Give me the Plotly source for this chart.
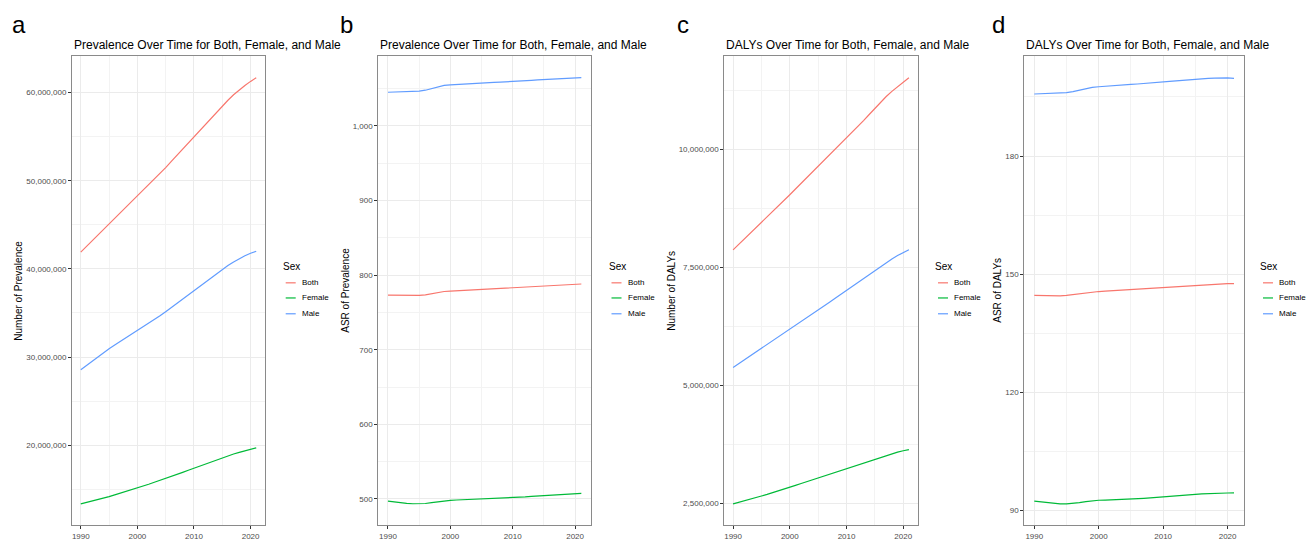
import numpy as np
import plotly.graph_objects as go

W, H = 1306, 541

years = list(range(1990, 2022))
sexes = ["Both", "Female", "Male"]
colors = {"Both": "#F8766D", "Female": "#00BA38", "Male": "#619CFF"}

# Panel a: Number of prevalence (millions)
prev_num_both = [41.9, 42.54, 43.18, 43.82, 44.46, 45.1, 45.72, 46.34, 46.96, 47.58, 48.2, 48.84, 49.48, 50.14,
                 50.82, 51.5, 52.2, 52.9, 53.6, 54.3, 55.0, 55.7, 56.4, 57.1, 57.8, 58.48, 59.14, 59.76, 60.32,
                 60.82, 61.28, 61.7]
prev_num_female = [13.35, 13.5, 13.66, 13.82, 13.99, 14.17, 14.36, 14.55, 14.75, 14.95, 15.15, 15.36, 15.57,
                   15.79, 16.0, 16.22, 16.45, 16.68, 16.92, 17.16, 17.4, 17.64, 17.88, 18.12, 18.36, 18.58, 18.8,
                   19.0, 19.19, 19.37, 19.54, 19.7]
prev_num_male = [28.55, 29.05, 29.55, 30.05, 30.5, 30.95, 31.37, 31.78, 32.18, 32.57, 32.96, 33.36, 33.78, 34.22,
                 34.68, 35.15, 35.63, 36.12, 36.61, 37.1, 37.59, 38.08, 38.56, 39.04, 39.5, 39.95, 40.38, 40.79,
                 41.16, 41.5, 41.78, 42.0]

# Panel b: ASR of prevalence
prev_asr_both = [773.1, 772.9, 772.7, 772.6, 772.6, 772.8, 773.6, 775.2, 776.9, 778.0, 778.5, 779.0, 779.4, 779.8,
                 780.2, 780.6, 781.0, 781.4, 781.8, 782.3, 782.8, 783.3, 783.9, 784.5, 785.0, 785.5, 786.0, 786.5,
                 787.0, 787.4, 787.8, 788.1]
prev_asr_female = [497.0, 495.8, 494.8, 494.0, 493.6, 493.5, 493.9, 495.0, 496.4, 497.5, 498.2, 498.6, 498.9, 499.2,
                   499.5, 499.8, 500.1, 500.5, 500.9, 501.3, 501.7, 502.2, 502.8, 503.4, 504.0, 504.5, 505.0, 505.5,
                   506.0, 506.5, 507.0, 507.5]
prev_asr_male = [1045.1, 1045.2, 1045.4, 1045.7, 1046.0, 1046.5, 1047.8, 1050.0, 1052.5, 1054.2, 1055.0, 1055.6,
                 1056.2, 1056.7, 1057.1, 1057.5, 1057.9, 1058.3, 1058.6, 1058.9, 1059.3, 1059.8, 1060.4, 1061.0,
                 1061.6, 1062.1, 1062.6, 1063.1, 1063.6, 1064.0, 1064.3, 1064.6]

# Panel c: Number of DALYs (millions)
daly_num_both = [7.87, 7.985, 8.1, 8.215, 8.33, 8.45, 8.57, 8.69, 8.81, 8.925, 9.04, 9.16, 9.28, 9.4, 9.515, 9.635,
                 9.755, 9.875, 9.995, 10.11, 10.23, 10.355, 10.48, 10.61, 10.74, 10.87, 11.0, 11.12, 11.23, 11.33,
                 11.43, 11.52]
daly_num_female = [2.49, 2.52, 2.55, 2.585, 2.62, 2.655, 2.69, 2.725, 2.76, 2.8, 2.84, 2.88, 2.92, 2.96, 3.0, 3.04,
                   3.08, 3.12, 3.16, 3.2, 3.24, 3.28, 3.32, 3.36, 3.4, 3.44, 3.48, 3.52, 3.555, 3.585, 3.615, 3.64]
daly_num_male = [5.38, 5.46, 5.545, 5.63, 5.71, 5.79, 5.87, 5.95, 6.03, 6.11, 6.19, 6.27, 6.35, 6.43, 6.51, 6.59,
                 6.675, 6.76, 6.845, 6.93, 7.015, 7.1, 7.185, 7.27, 7.355, 7.44, 7.525, 7.605, 7.68, 7.75, 7.815,
                 7.875]

# Panel d: ASR of DALYs
daly_asr_both = [144.6, 144.55, 144.5, 144.48, 144.5, 144.6, 144.8, 145.1, 145.35, 145.5, 145.6, 145.7, 145.8,
                 145.9, 146.0, 146.1, 146.2, 146.3, 146.45, 146.6, 146.7, 146.8, 146.9, 147.0, 147.1, 147.2, 147.3,
                 147.4, 147.5, 147.55, 147.6, 147.6]
daly_asr_female = [92.4, 92.2, 92.0, 91.8, 91.7, 91.7, 91.8, 92.0, 92.25, 92.45, 92.6, 92.65, 92.7, 92.8, 92.85,
                   92.9, 93.0, 93.1, 93.2, 93.35, 93.5, 93.6, 93.75, 93.85, 94.0, 94.1, 94.2, 94.3, 94.35, 94.4,
                   94.45, 94.5]
daly_asr_male = [195.75, 195.8, 195.85, 195.9, 196.0, 196.1, 196.35, 196.75, 197.15, 197.45, 197.6, 197.75, 197.85,
                 197.95, 198.1, 198.2, 198.3, 198.4, 198.5, 198.65, 198.8, 198.95, 199.1, 199.25, 199.4, 199.5,
                 199.6, 199.7, 199.8, 199.9, 199.85, 199.7]

panel_labels = ["a", "b", "c", "d"]
panel_titles = ["Prevalence Over Time for Both, Female, and Male",
                "Prevalence Over Time for Both, Female, and Male",
                "DALYs Over Time for Both, Female, and Male",
                "DALYs Over Time for Both, Female, and Male"]
y_titles = ["Number of Prevalence", "ASR of Prevalence", "Number of DALYs", "ASR of DALYs"]
x_ticks = [1990, 2000, 2010, 2020]
x_minor = [1995, 2005, 2015]

panels = [
    dict(data={"Both": np.array(prev_num_both) * 1e6, "Female": np.array(prev_num_female) * 1e6,
               "Male": np.array(prev_num_male) * 1e6}, dtick=10e6, minor=5e6),
    dict(data={"Both": np.array(prev_asr_both), "Female": np.array(prev_asr_female),
               "Male": np.array(prev_asr_male)}, dtick=100, minor=50),
    dict(data={"Both": np.array(daly_num_both) * 1e6, "Female": np.array(daly_num_female) * 1e6,
               "Male": np.array(daly_num_male) * 1e6}, dtick=2.5e6, minor=1.25e6),
    dict(data={"Both": np.array(daly_asr_both), "Female": np.array(daly_asr_female),
               "Male": np.array(daly_asr_male)}, dtick=30, minor=15),
]

# pixel layout of each panel: (left, right), top, bottom
px_x = [(72, 265), (378.3, 591), (724.3, 917.7), (1024.3, 1244)]
px_top, px_bot = 57, 531
ytitle_x = [19, 346, 672, 998]
label_x = [10, 338, 675, 990]
legend_x = [280.7, 606.5, 933, 1258]

FONT = "Liberation Sans, Arial"

def fx(p):
    return p / W

def fy(p):
    return 1 - p / H

fig = go.Figure()
annotations = []
shapes = []

xr = [1990 - 0.05 * 31, 2021 + 0.05 * 31]

for i, pnl in enumerate(panels):
    n = "" if i == 0 else str(i + 1)
    xa, ya = "x" + n, "y" + n
    allv = np.concatenate(list(pnl["data"].values()))
    lo, hi = allv.min(), allv.max()
    pad = 0.05 * (hi - lo)
    for s in sexes:
        fig.add_trace(go.Scatter(x=years, y=pnl["data"][s], mode="lines", name=s,
                                 line=dict(color=colors[s], width=1.2),
                                 xaxis=xa, yaxis=ya, showlegend=False))
    axcommon = dict(showline=True, mirror=True, linecolor="#8a8a8a", linewidth=1,
                    ticks="outside", ticklen=3, tickcolor="#333333", tickwidth=1,
                    tickfont=dict(size=8, color="#4d4d4d", family=FONT),
                    gridcolor="#ebebeb", gridwidth=1, zeroline=False)
    fig.update_layout(**{
        "xaxis" + n: dict(domain=[fx(px_x[i][0]), fx(px_x[i][1])], anchor=ya, range=xr,
                          tickvals=x_ticks,
                          minor=dict(tickvals=x_minor, showgrid=True, gridcolor="#f3f3f3",
                                     gridwidth=1, ticklen=0),
                          **axcommon),
        "yaxis" + n: dict(domain=[fy(px_bot), fy(px_top)], anchor=xa, range=[lo - pad, hi + pad],
                          tick0=0, dtick=pnl["dtick"], tickformat=",",
                          minor=dict(dtick=pnl["minor"], tick0=0, showgrid=True, gridcolor="#f3f3f3",
                                     gridwidth=1, ticklen=0),
                          **axcommon),
    })
    annotations.append(dict(text=panel_labels[i], x=fx(label_x[i]), y=fy(25), xref="paper", yref="paper",
                            xanchor="left", yanchor="middle", showarrow=False,
                            font=dict(size=24, color="black", family=FONT)))
    annotations.append(dict(text=panel_titles[i], x=fx(px_x[i][0]), y=fy(46), xref="paper", yref="paper",
                            xanchor="left", yanchor="middle", showarrow=False,
                            font=dict(size=12, color="black", family=FONT)))
    annotations.append(dict(text=y_titles[i], x=fx(ytitle_x[i]), y=fy((px_top + px_bot) / 2),
                            xref="paper", yref="paper", xanchor="center", yanchor="middle",
                            textangle=-90, showarrow=False,
                            font=dict(size=10, color="black", family=FONT)))
    lx = legend_x[i]
    annotations.append(dict(text="Sex", x=fx(lx), y=fy(269), xref="paper", yref="paper",
                            xanchor="left", yanchor="middle", showarrow=False,
                            font=dict(size=10, color="black", family=FONT)))
    for k, s in enumerate(sexes):
        yy = [286, 301.3, 317.3][k]
        shapes.append(dict(type="line", xref="paper", yref="paper", x0=fx(lx + 5), x1=fx(lx + 15),
                           y0=fy(yy), y1=fy(yy), line=dict(color=colors[s], width=1.2)))
        annotations.append(dict(text=s, x=fx(lx + 19), y=fy(yy), xref="paper", yref="paper",
                                xanchor="left", yanchor="middle", showarrow=False,
                                font=dict(size=8, color="black", family=FONT)))

fig.update_layout(width=W, height=H, margin=dict(l=0, r=0, t=0, b=0),
                  paper_bgcolor="white", plot_bgcolor="white",
                  annotations=annotations, shapes=shapes, showlegend=False,
                  font=dict(family=FONT))

fig.write_html("out.html")
